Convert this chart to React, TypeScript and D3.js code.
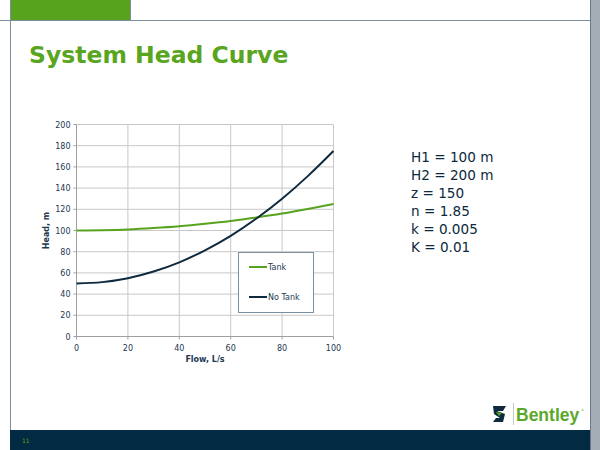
import React from "react";
import * as d3 from "d3";

const flow = [0, 10, 20, 30, 40, 50, 60, 70, 80, 90, 100];
const tankHead = [100, 100.3, 101, 102.3, 104, 106.3, 109, 112.3, 116, 120.3, 125];
const noTankHead = [50, 51.3, 55, 61.3, 70, 81.3, 95, 111.3, 130, 151.3, 175];
const xTicks = [0, 20, 40, 60, 80, 100];
const yTicks = [0, 20, 40, 60, 80, 100, 120, 140, 160, 180, 200];
const params = ["H1 = 100 m", "H2 = 200 m", "z = 150", "n = 1.85", "k = 0.005", "K = 0.01"];
const seriesNames = ["Tank", "No Tank"];

const GREEN = "#5aa51e";
const NAVY = "#022a42";
const FONT = "'DejaVu Sans', Verdana, sans-serif";

export default function App() {
  const x = d3.scaleLinear().domain([0, 100]).range([76.5, 333.5]);
  const y = d3.scaleLinear().domain([0, 200]).range([336.5, 124.5]);
  const line = d3
    .line<number>()
    .x((_, i) => x(flow[i]))
    .y((d) => y(d))
    .curve(d3.curveMonotoneX);

  return (
    <svg
      width={600}
      height={450}
      style={{ position: "absolute", left: 0, top: 0, fontFamily: FONT }}
    >
      <rect x={0} y={0} width={600} height={450} fill="#ffffff" />
      {/* frame */}
      <rect x={10} y={0} width={120} height={20} fill="#58a31e" />
      <line x1={0} y1={20.5} x2={590} y2={20.5} stroke="#7890a0" strokeWidth={1} />
      <line x1={10.5} y1={0} x2={10.5} y2={450} stroke="#7890a0" strokeWidth={1} />
      <line x1={130.5} y1={0} x2={130.5} y2={20} stroke="#7890a0" strokeWidth={1} />
      <rect x={590} y={0} width={10} height={450} fill="#a4acb6" />
      <line x1={590.5} y1={0} x2={590.5} y2={450} stroke="#6a7a8a" strokeWidth={1} />
      <rect x={10} y={430} width={580} height={20} fill={NAVY} />
      <text x={22} y={443} fontSize={6} fill={GREEN}>11</text>

      {/* title */}
      <text x={29} y={63} fontSize={23.5} fontWeight="bold" fill={GREEN}>
        System Head Curve
      </text>

      {/* grid */}
      {xTicks.map((t) => (
        <line key={"gx" + t} x1={x(t)} x2={x(t)} y1={y(0)} y2={y(200)} stroke="#c8c8c8" strokeWidth={1} />
      ))}
      {yTicks.map((t) => (
        <line key={"gy" + t} x1={x(0)} x2={x(100)} y1={y(t)} y2={y(t)} stroke="#c8c8c8" strokeWidth={1} />
      ))}
      {/* axes */}
      <line x1={x(0)} x2={x(0)} y1={y(0)} y2={y(200)} stroke="#a0a0a0" />
      <line x1={x(0)} x2={x(100)} y1={y(0)} y2={y(0)} stroke="#a0a0a0" />
      {yTicks.map((t) => (
        <g key={"ty" + t}>
          <line x1={x(0) - 3} x2={x(0)} y1={y(t)} y2={y(t)} stroke="#a0a0a0" />
          <text x={x(0) - 6} y={y(t) + 3} fontSize={8} textAnchor="end" fill="#1c3850">{t}</text>
        </g>
      ))}
      {xTicks.map((t) => (
        <g key={"tx" + t}>
          <line x1={x(t)} x2={x(t)} y1={y(0)} y2={y(0) + 3} stroke="#a0a0a0" />
          <text x={x(t)} y={y(0) + 14} fontSize={8} textAnchor="middle" fill="#1c3850">{t}</text>
        </g>
      ))}
      <text x={205} y={362} fontSize={8} fontWeight="bold" textAnchor="middle" fill="#1c3850">Flow, L/s</text>
      <text
        transform={`translate(49,${(y(0) + y(200)) / 2}) rotate(-90)`}
        fontSize={8}
        fontWeight="bold"
        textAnchor="middle"
        fill="#1c3850"
      >
        Head, m
      </text>

      {/* series */}
      <path d={line(tankHead) || ""} fill="none" stroke="#58a31e" strokeWidth={2} />
      <path d={line(noTankHead) || ""} fill="none" stroke="#0d2a3e" strokeWidth={2} />

      {/* legend */}
      <rect x={238.5} y={252.5} width={75} height={60} fill="#ffffff" stroke="#7890a0" strokeWidth={1} />
      <line x1={249} x2={267} y1={267} y2={267} stroke="#58a31e" strokeWidth={2} />
      <text x={268} y={270} fontSize={8} fill="#1c3850">{seriesNames[0]}</text>
      <line x1={249} x2={267} y1={297} y2={297} stroke="#0d2a3e" strokeWidth={2} />
      <text x={268} y={300} fontSize={8} fill="#1c3850">{seriesNames[1]}</text>

      {/* parameters */}
      {params.map((p, i) => (
        <text key={p} x={411} y={162 + i * 18} fontSize={13.6} fill="#0d2a3e">{p}</text>
      ))}

      {/* logo */}
      <g>
        <path d="M493 406 L506 406 L503 411 L497 411 L505 414 L503 422 L493 422 L496 418 L500 418 L494 414 Z" fill="#0d2a3e" />
        <path d="M496 412 L502 413 L499 416 Z" fill={GREEN} />
        <line x1={513.5} y1={403} x2={513.5} y2={425} stroke="#c0c8d0" strokeWidth={1} />
        <text x={516} y={421} fontSize={17.5} fontWeight="bold" fill="#5aa82a" fontFamily="Arial, 'Liberation Sans', sans-serif">Bentley</text>
        <text x={581} y={411} fontSize={3} fill="#5aa82a">®</text>
      </g>
    </svg>
  );
}
